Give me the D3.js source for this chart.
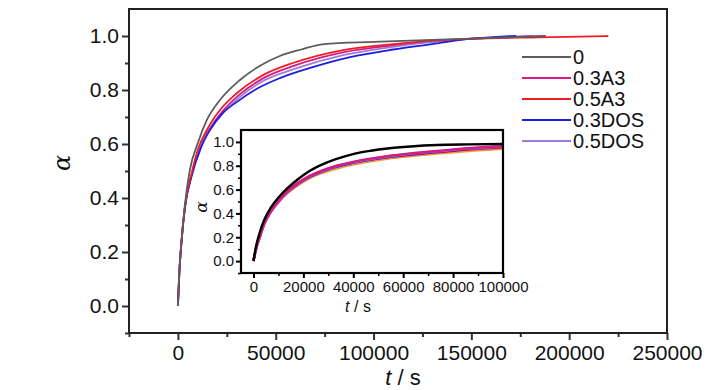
<!DOCTYPE html>
<html>
<head>
<meta charset="utf-8">
<script src="https://cdn.jsdelivr.net/npm/d3@7"></script>
<style>
  body { margin: 0; background: #fff; }
  svg text { font-family: "Liberation Sans Narrow", "Arial Narrow", "Liberation Sans", Arial, sans-serif; fill: #111; }
</style>
</head>
<body>
<svg id="chart" width="728" height="390"></svg>
<script>
// main chart series
var names = ["0", "0.3A3", "0.5A3", "0.3DOS", "0.5DOS"];
var colors = ["#5c5c5c", "#d81b84", "#ee1c24", "#1c1ce0", "#a07ad8"];

var tGray = [0, 700, 1900, 3500, 6000, 10200, 14800, 21500, 31700, 42000, 52100, 63000, 74600, 100000, 130000, 160000, 188000];
var aGray = [0, 0.12, 0.245, 0.37, 0.5, 0.604, 0.689, 0.763, 0.837, 0.89, 0.926, 0.95, 0.97, 0.978, 0.986, 0.993, 1.0];

var tMag = [0, 700, 1900, 3600, 7000, 11000, 15500, 22500, 31000, 44000, 59500, 85000, 110000, 140000, 165000, 182000];
var aMag = [0, 0.12, 0.244, 0.366, 0.487, 0.59, 0.648, 0.718, 0.78, 0.845, 0.89, 0.94, 0.965, 0.985, 0.995, 1.0];

var tRed = [0, 700, 1900, 3600, 7000, 10500, 14800, 21500, 30200, 43500, 58800, 84400, 110000, 150800, 185000, 220000];
var aRed = [0, 0.12, 0.244, 0.368, 0.49, 0.585, 0.652, 0.726, 0.789, 0.855, 0.9, 0.948, 0.97, 0.99, 0.995, 1.0];

var tBlue = [0, 700, 1900, 3600, 7000, 12000, 16400, 23000, 30200, 42000, 52100, 69000, 88000, 110000, 130000, 150000, 165000, 173000];
var aBlue = [0, 0.12, 0.244, 0.365, 0.48, 0.59, 0.652, 0.715, 0.756, 0.811, 0.844, 0.885, 0.922, 0.95, 0.97, 0.99, 0.998, 1.0];

var tPur = [0, 700, 1900, 3600, 7000, 11000, 15500, 22500, 31000, 44000, 59500, 85000, 110000, 140000, 165000, 188000];
var aPur = [0, 0.12, 0.244, 0.366, 0.485, 0.585, 0.643, 0.71, 0.77, 0.835, 0.878, 0.93, 0.96, 0.985, 0.995, 1.0];

var xTicks = [0, 50000, 100000, 150000, 200000, 250000];
var yTicks = [0.0, 0.2, 0.4, 0.6, 0.8, 1.0];

// inset series
var tInset = [0, 1000, 2500, 4300, 7000, 10300, 13500, 17700, 22000, 27000, 33000, 40300, 47000, 53600, 63000, 73600, 86000, 100000];
var iBlack = [0, 0.12, 0.24, 0.345, 0.45, 0.54, 0.61, 0.685, 0.75, 0.805, 0.855, 0.9, 0.926, 0.945, 0.962, 0.974, 0.979, 0.982];
var iRed = [0, 0.11, 0.22, 0.33, 0.44, 0.525, 0.59, 0.655, 0.71, 0.755, 0.795, 0.828, 0.852, 0.871, 0.892, 0.912, 0.935, 0.952];
var iOrange = [0, 0.1, 0.2, 0.31, 0.415, 0.5, 0.568, 0.635, 0.69, 0.735, 0.775, 0.812, 0.838, 0.859, 0.882, 0.902, 0.924, 0.943];
var iBlue = [0, 0.1, 0.2, 0.31, 0.415, 0.505, 0.575, 0.645, 0.7, 0.747, 0.79, 0.826, 0.852, 0.873, 0.896, 0.916, 0.94, 0.958];
var iPur = [0, 0.1, 0.2, 0.31, 0.415, 0.505, 0.577, 0.648, 0.704, 0.751, 0.795, 0.831, 0.857, 0.878, 0.901, 0.921, 0.944, 0.962];
var iMag = [0, 0.1, 0.2, 0.312, 0.418, 0.508, 0.58, 0.651, 0.707, 0.754, 0.798, 0.834, 0.86, 0.881, 0.904, 0.924, 0.947, 0.964];
var insetColors = ["#f39a3c", "#ee1c24", "#1c1ce0", "#a07ad8", "#d81b84", "#000000"];
var insetXTicks = [0, 20000, 40000, 60000, 80000, 100000];

var svg = d3.select("#chart");

function pairs(ts, as) {
  return ts.map(function(t, i) { return [t, as[i]]; });
}

function styleTicks(g, color, width) {
  g.select(".domain").remove();
  g.selectAll("line").attr("stroke", color).attr("stroke-width", width);
}

// ---- main plot ----
var mLeft = 129, mTop = 9, mRight = 667, mBottom = 333;
var x = d3.scaleLinear().domain([-25000, 250000]).range([mLeft, mRight]);
var y = d3.scaleLinear().domain([-0.1, 1.1]).range([mBottom, mTop]);

var xAxis = d3.axisBottom(x).tickValues(xTicks).tickFormat(d3.format("d")).tickSize(7).tickPadding(5);
var yAxis = d3.axisLeft(y).tickValues(yTicks).tickFormat(d3.format(".1f")).tickSize(7).tickPadding(3);

var gx = svg.append("g").attr("transform", "translate(0," + mBottom + ")").call(xAxis);
var gy = svg.append("g").attr("transform", "translate(" + mLeft + ",0)").call(yAxis);
[gx, gy].forEach(function(g) {
  styleTicks(g, "#333", 2);
  g.selectAll("text").style("font-size", "21px").attr("fill", "#111");
});

svg.append("g").attr("transform", "translate(0," + mBottom + ")")
  .call(d3.axisBottom(x).tickValues([-25000, 25000, 75000, 125000, 175000, 225000]).tickSize(4).tickFormat(""))
  .call(function(g) { styleTicks(g, "#333", 2); });
svg.append("g").attr("transform", "translate(" + mLeft + ",0)")
  .call(d3.axisLeft(y).tickValues([-0.1, 0.1, 0.3, 0.5, 0.7, 0.9]).tickSize(4).tickFormat(""))
  .call(function(g) { styleTicks(g, "#333", 2); });

svg.append("rect")
  .attr("x", mLeft).attr("y", mTop).attr("width", mRight - mLeft).attr("height", mBottom - mTop)
  .attr("fill", "none").attr("stroke", "#222").attr("stroke-width", 2);

var line = d3.line().curve(d3.curveMonotoneX)
  .x(function(d) { return x(d[0]); }).y(function(d) { return y(d[1]); });

var mainSeries = [pairs(tGray, aGray), pairs(tMag, aMag), pairs(tRed, aRed), pairs(tBlue, aBlue), pairs(tPur, aPur)];
var drawOrder = [1, 4, 3, 2, 0];
drawOrder.forEach(function(i) {
  svg.append("path").datum(mainSeries[i])
    .attr("d", line).attr("fill", "none")
    .attr("stroke", colors[i]).attr("stroke-width", 1.8);
});

// legend
var legend = svg.append("g").attr("transform", "translate(522,57)");
names.forEach(function(n, i) {
  var row = legend.append("g").attr("transform", "translate(0," + (i * 21) + ")");
  row.append("line").attr("x1", 0).attr("x2", 49).attr("y1", 0).attr("y2", 0)
    .attr("stroke", colors[i]).attr("stroke-width", 2);
  row.append("text").attr("x", 51).attr("y", 0).attr("dy", "0.36em")
    .style("font-size", "20px").text(n);
});

// axis titles
svg.append("text").attr("transform", "translate(62,163) rotate(-90)")
  .attr("text-anchor", "middle").attr("dy", "0.35em")
  .style("font-size", "24px").style("font-style", "italic").style("font-family", "'DejaVu Serif', serif")
  .text("α");
svg.append("text").attr("x", 403).attr("y", 385).attr("text-anchor", "middle")
  .style("font-size", "22px")
  .html('<tspan font-style="italic">t</tspan> / s');

// ---- inset ----
var iL = 241, iT = 130, iR = 503, iB = 273;
var ix = d3.scaleLinear().domain([-5000, 100000]).range([iL, iR]);
var iy = d3.scaleLinear().domain([-0.1, 1.1]).range([iB, iT]);

svg.append("rect").attr("x", iL).attr("y", iT).attr("width", iR - iL).attr("height", iB - iT)
  .attr("fill", "#fff");

var ixAxis = d3.axisBottom(ix).tickValues(insetXTicks).tickFormat(d3.format("d")).tickSize(5).tickPadding(3);
var iyAxis = d3.axisLeft(iy).tickValues(yTicks).tickFormat(d3.format(".1f")).tickSize(5).tickPadding(2);
var igx = svg.append("g").attr("transform", "translate(0," + iB + ")").call(ixAxis);
var igy = svg.append("g").attr("transform", "translate(" + iL + ",0)").call(iyAxis);
[igx, igy].forEach(function(g) {
  styleTicks(g, "#000", 2);
  g.selectAll("text").style("font-size", "15px").attr("fill", "#111");
});
svg.append("g").attr("transform", "translate(0," + iB + ")")
  .call(d3.axisBottom(ix).tickValues([10000, 30000, 50000, 70000, 90000]).tickSize(3).tickFormat(""))
  .call(function(g) { styleTicks(g, "#000", 1.5); });
svg.append("g").attr("transform", "translate(" + iL + ",0)")
  .call(d3.axisLeft(iy).tickValues([-0.1, 0.1, 0.3, 0.5, 0.7, 0.9]).tickSize(3).tickFormat(""))
  .call(function(g) { styleTicks(g, "#000", 1.5); });

var iline = d3.line().curve(d3.curveMonotoneX)
  .x(function(d) { return ix(d[0]); }).y(function(d) { return iy(d[1]); });
var insetSeries = [iOrange, iRed, iBlue, iPur, iMag, iBlack];
insetSeries.forEach(function(s, i) {
  svg.append("path").datum(pairs(tInset, s))
    .attr("d", iline).attr("fill", "none")
    .attr("stroke", insetColors[i]).attr("stroke-width", 2.4);
});

svg.append("rect").attr("x", iL).attr("y", iT).attr("width", iR - iL).attr("height", iB - iT)
  .attr("fill", "none").attr("stroke", "#000").attr("stroke-width", 2.2);

svg.append("text").attr("transform", "translate(201,207) rotate(-90)")
  .attr("text-anchor", "middle").attr("dy", "0.35em")
  .style("font-size", "17px").style("font-style", "italic").style("font-family", "'DejaVu Serif', serif")
  .text("α");
svg.append("text").attr("x", 358).attr("y", 312).attr("text-anchor", "middle")
  .style("font-size", "16px")
  .html('<tspan font-style="italic">t</tspan> / s');
</script>
</body>
</html>
